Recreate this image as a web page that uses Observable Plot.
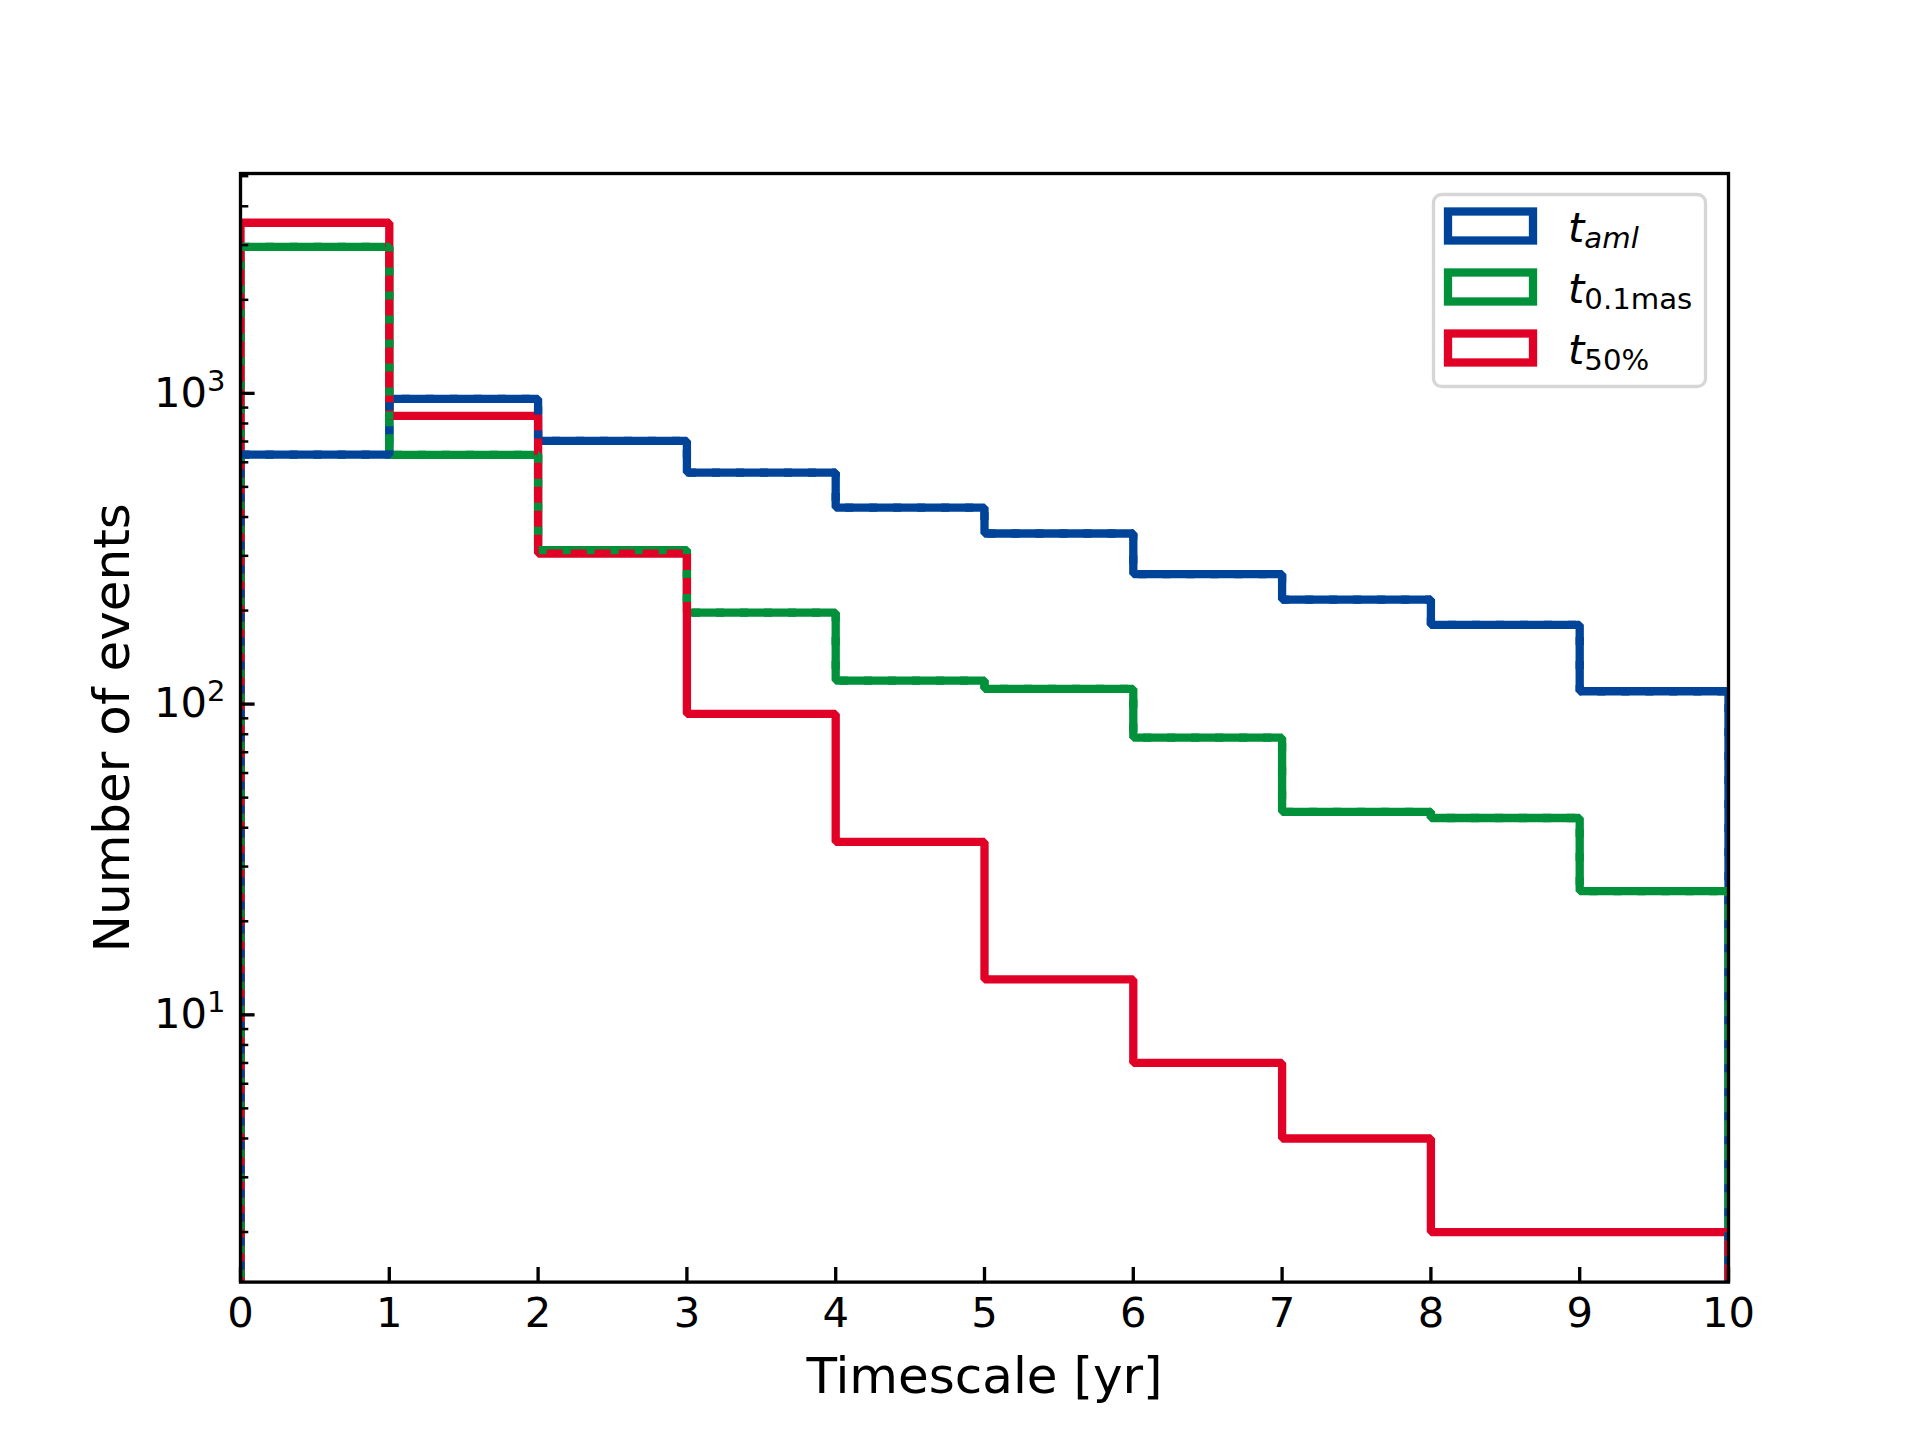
<!DOCTYPE html>
<html><head><meta charset="utf-8">
<script src="https://cdn.jsdelivr.net/npm/d3@7"></script>
<script src="https://cdn.jsdelivr.net/npm/@observablehq/plot@0.6"></script>
<style>
body{margin:0;background:#fff;}
#fig{position:relative;width:1920px;height:1440px;background:#fff;}
#fig > svg{position:absolute;left:0;top:0;}
</style></head><body><div id="fig"></div>
<script>
// ---- data ----
const binEdges = [0,1,2,3,4,5,6,7,8,9,10];
const tAml   = [635, 960, 703, 556, 429, 354, 262, 217, 180, 110];
const t01mas = [2960, 634, 313, 197, 119, 112, 78, 45, 43, 25];
const t50    = [3540, 847, 305, 93, 36, 13, 7, 4, 2, 2];
const seriesValues = [tAml, t01mas, t50];
const seriesSub = ["aml", "0.1mas", "50%"];
const seriesSubItalic = [true, false, false];
const seriesColors = ["#00449a", "#00913a", "#e10026"];
const xTicks = [0,1,2,3,4,5,6,7,8,9,10];
const yMajorTicks = [10, 100, 1000];
const yMinorTicks = [2,3,4,5,6,7,8,9,20,30,40,50,60,70,80,90,200,300,400,500,600,700,800,900,2000,3000,4000,5000];
const yDomain = [1.38, 5100];
const histFloor = 1; // empty-bin baseline of step outline (below axis)
const xLabel = "Timescale [yr]";
const yLabel = "Number of events";

// ---- step outlines ----
function stepOutline(vals){
  const pts = [{x: binEdges[0], y: histFloor}];
  vals.forEach((v,i)=>{ pts.push({x: binEdges[i], y: v}); pts.push({x: binEdges[i+1], y: v}); });
  pts.push({x: binEdges[binEdges.length-1], y: histFloor});
  return pts;
}
const outlines = seriesValues.map(stepOutline);

const W = 1920, H = 1440;
const lw = 8.3;
const common = {x: "x", y: "y", strokeWidth: lw, strokeLinejoin: "miter", strokeLinecap: "butt", clip: true};

const chart = Plot.plot({
  width: W, height: H,
  marginLeft: 240, marginRight: 192, marginTop: 173, marginBottom: 158.4,
  style: {fontFamily: "DejaVu Sans", fontSize: "41.7px", background: "white", color: "black"},
  x: {domain: [0, 10], label: null},
  y: {type: "log", domain: yDomain, label: null},
  marks: [
    Plot.line(outlines[0], {...common, stroke: seriesColors[0]}),
    Plot.line(outlines[1], {...common, stroke: seriesColors[1]}),
    Plot.line(outlines[2], {...common, stroke: seriesColors[2]}),
    Plot.line(outlines[1], {...common, stroke: seriesColors[1], strokeDasharray: "8,16"}),
    Plot.line(outlines[0], {...common, stroke: seriesColors[0], strokeDasharray: "8,16", strokeDashoffset: 16}),
    Plot.axisX({ticks: xTicks, tickSize: -14.6, tickPadding: 29.6, tickFormat: d => String(d), strokeWidth: 3.33, fontSize: 41.7, label: null}),
    Plot.axisY({ticks: yMinorTicks, tickSize: -8.3, tickPadding: 20, tickFormat: () => "", strokeWidth: 2.5, label: null}),
    Plot.axisY({ticks: yMajorTicks, tickSize: -14.6, tickPadding: 29.6, tickFormat: d => "10^" + Math.round(Math.log10(d)), strokeWidth: 3.33, fontSize: 41.7, label: null}),
    Plot.text([xLabel], {frameAnchor: "bottom", textAnchor: "middle", lineAnchor: "middle", dy: 95, fontSize: 50, fill: "black"}),
    Plot.text([yLabel], {frameAnchor: "left", textAnchor: "middle", lineAnchor: "middle", dx: -128, rotate: -90, fontSize: 50, fill: "black"}),
    Plot.frame({stroke: "black", strokeWidth: 3.33})
  ]
});

// superscript exponents
chart.querySelectorAll("text").forEach(t => {
  const m = /^10\^(\d+)$/.exec(t.textContent);
  if (m) {
    t.textContent = "10";
    const s = document.createElementNS("http://www.w3.org/2000/svg", "tspan");
    s.setAttribute("font-size", "29");
    s.setAttribute("dy", "-16");
    s.textContent = m[1];
    t.appendChild(s);
  }
});
document.getElementById("fig").appendChild(chart);

// legend overlay (inside axes, upper right)
const NS = "http://www.w3.org/2000/svg";
const leg = document.createElementNS(NS, "svg");
leg.setAttribute("width", W); leg.setAttribute("height", H);
leg.style.pointerEvents = "none";
const box = document.createElementNS(NS, "rect");
Object.entries({x: 1433.5, y: 194.5, width: 272, height: 192, rx: 8, fill: "white", stroke: "#d6d6d6", "stroke-width": 3.33}).forEach(([k,v])=>box.setAttribute(k,v));
leg.appendChild(box);
seriesSub.forEach((sub, i) => {
  const cy = 226 + i * 61;
  const r = document.createElementNS(NS, "rect");
  Object.entries({x: 1448, y: cy - 14.5, width: 85, height: 29, fill: "none", stroke: seriesColors[i], "stroke-width": lw}).forEach(([k,v])=>r.setAttribute(k,v));
  leg.appendChild(r);
  const t = document.createElementNS(NS, "text");
  t.setAttribute("x", 1568); t.setAttribute("y", cy + 15.5);
  t.setAttribute("font-family", "DejaVu Sans"); t.setAttribute("font-size", "41.7");
  const a = document.createElementNS(NS, "tspan");
  a.setAttribute("font-style", "italic"); a.textContent = "t";
  const b = document.createElementNS(NS, "tspan");
  b.setAttribute("font-size", "29.2"); b.setAttribute("dy", "6");
  if (seriesSubItalic[i]) b.setAttribute("font-style", "italic");
  b.textContent = sub;
  t.appendChild(a); t.appendChild(b);
  leg.appendChild(t);
});
document.getElementById("fig").appendChild(leg);
</script></body></html>
